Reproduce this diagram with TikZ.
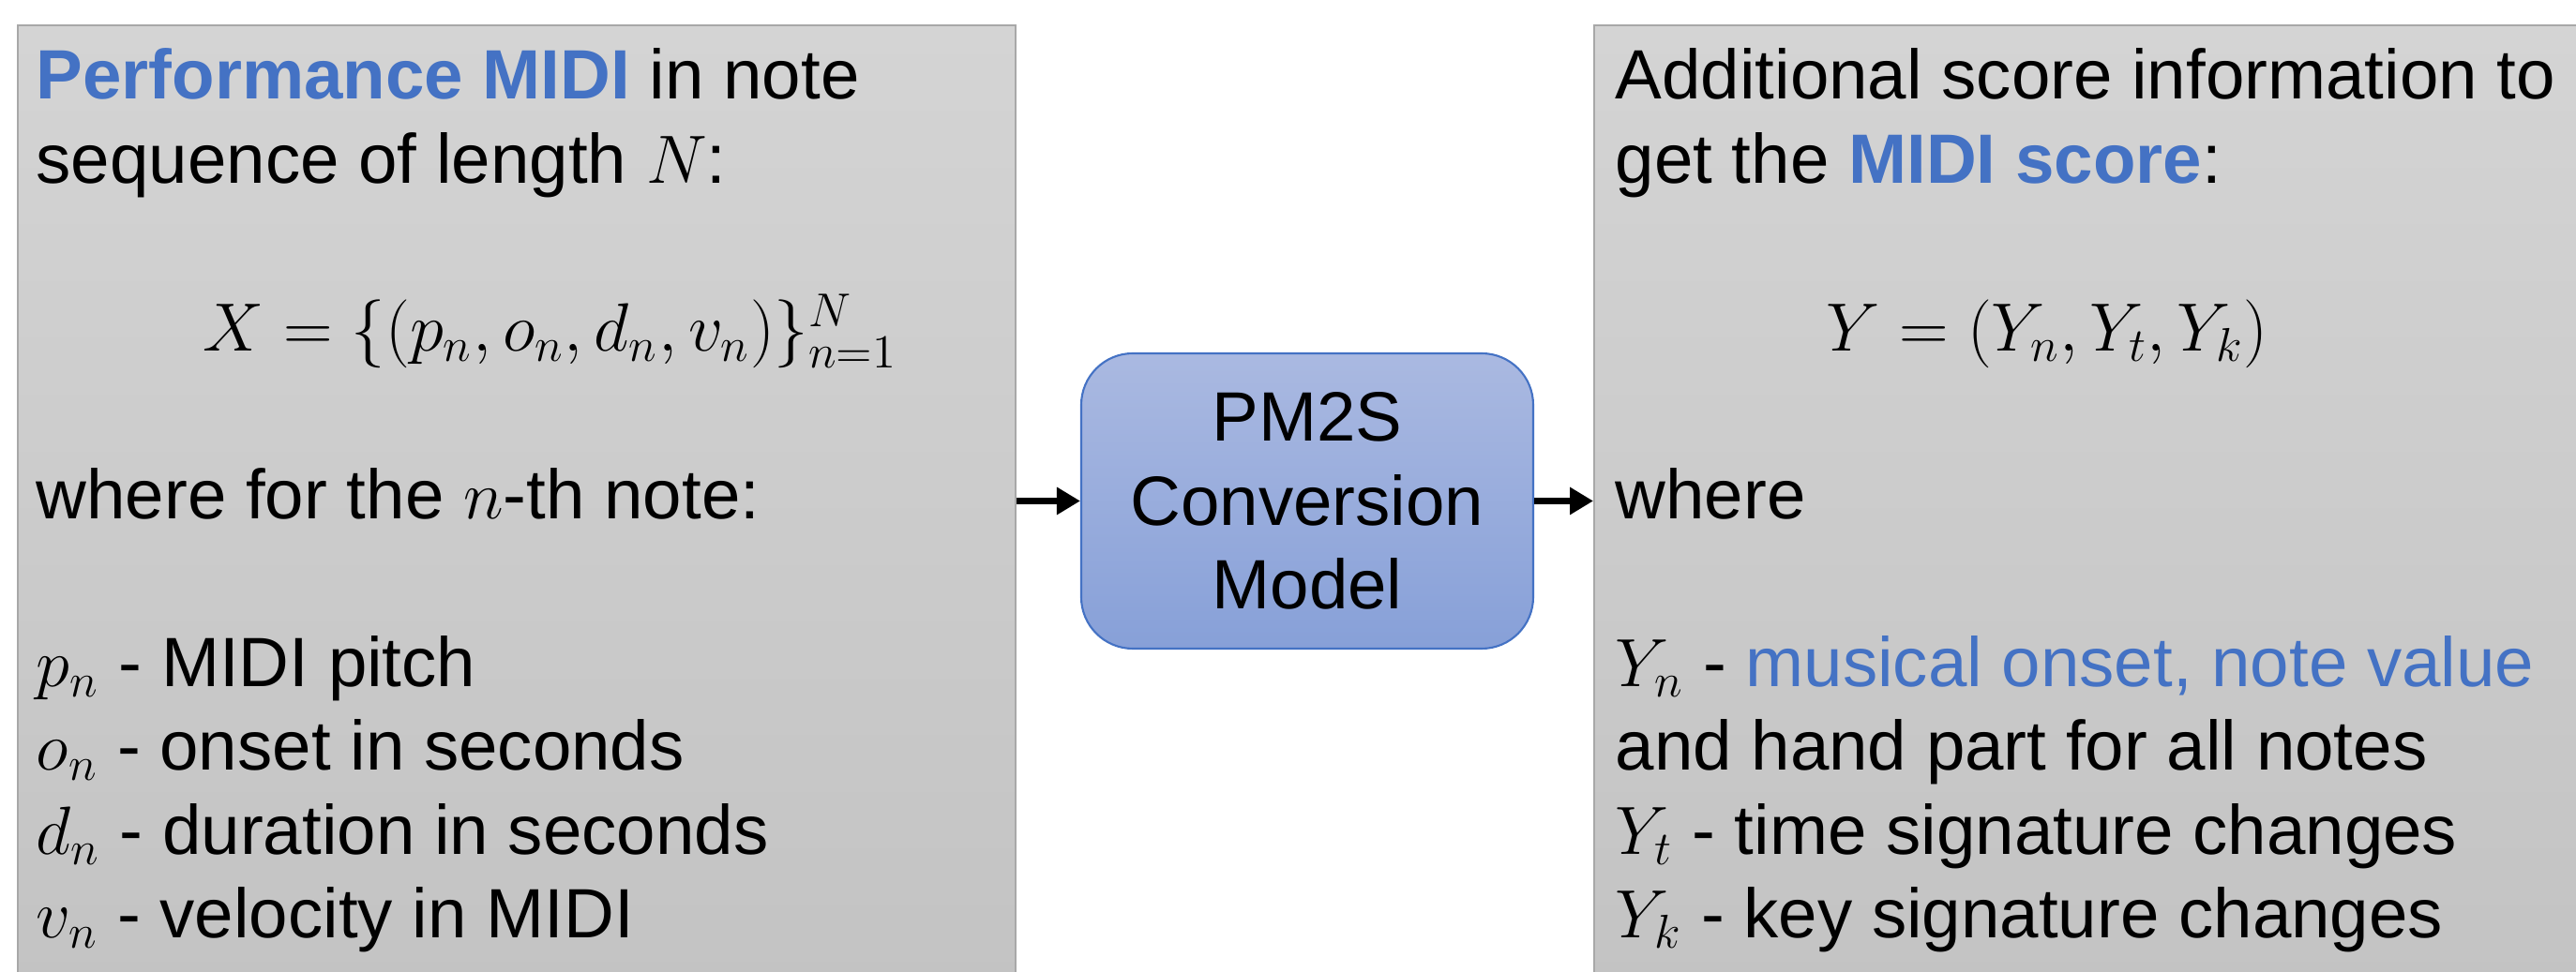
\documentclass[tikz,border=0pt]{standalone}
\usepackage{fontspec}
\setmainfont{Liberation Sans}
\usetikzlibrary{positioning,arrows.meta}
\definecolor{panelfill1}{HTML}{D4D4D4}
\definecolor{panelfill2}{HTML}{C2C2C2}
\definecolor{paneldraw}{HTML}{A8A8A8}
\definecolor{modelfill1}{HTML}{AAB9E1}
\definecolor{modelfill2}{HTML}{87A0D8}
\definecolor{modeldraw}{HTML}{4472C4}
\definecolor{hilite}{HTML}{4472C4}
\newcommand{\bodyfont}{\fontsize{21.2pt}{25.5pt}\selectfont}
\newcommand{\eqfont}{\fontsize{19.6pt}{25.5pt}\selectfont}

\tikzset{
  panel/.style={draw=paneldraw, line width=0.6pt, top color=panelfill1, bottom color=panelfill2,
    minimum width=10.64cm, minimum height=10.9cm, anchor=north west, inner sep=0pt},
  modelbox/.style={draw=modeldraw, line width=0.6pt, rounded corners=0.55cm,
    top color=modelfill1, bottom color=modelfill2, minimum width=4.82cm, minimum height=3.15cm,
    align=center, font=\bodyfont},
  textline/.style={anchor=base west, inner sep=0pt, font=\bodyfont},
  formula/.style={anchor=base, inner sep=0pt, font=\eqfont},
  flow/.style={-{Triangle[length=0.25cm,width=0.28cm]}, line width=1.8pt}
}

\begin{document}
\begin{tikzpicture}[x=1cm,y=1cm]
\useasboundingbox (0,0) rectangle (27.47,10.37);
\clip (0,0) rectangle (27.47,10.37);
% panels
\node[panel] (perf) at (0.175,10.11) {};
\node[panel] (score) at (16.99,10.11) {};
\node[modelbox] (model) at (13.94,5.025) {PM2S\\Conversion\\Model};

% left text
\foreach \k/\txt in {0/{\textcolor{hilite}{\bfseries Performance MIDI} in note},
    1/{sequence of length $N$:}, 5/{where for the $n$-th note:},
    7/{$p_n$ - MIDI pitch}, 8/{$o_n$ - onset in seconds},
    9/{$d_n$ - duration in seconds}, 10/{$v_n$ - velocity in MIDI}}
  \node[textline] (perf-\k) at (0.38,9.31-0.895*\k) {\txt};
\node[formula] (perf-eq) at (5.87,9.31-0.895*3) {$X=\{(p_n,o_n,d_n,v_n)\}_{n=1}^{N}$};

% right text
\foreach \k/\txt in {0/{Additional score information to},
    1/{get the \textcolor{hilite}{\bfseries MIDI score}:}, 5/{where},
    7/{$Y_n$ - \textcolor{hilite}{musical onset, note value}}, 8/{and hand part for all notes},
    9/{$Y_t$ - time signature changes}, 10/{$Y_k$ - key signature changes}}
  \node[textline] (score-\k) at (17.22,9.31-0.895*\k) {\txt};
\node[formula] (score-eq) at (21.83,9.31-0.895*3) {$Y=(Y_n,Y_t,Y_k)$};

% arrows
\draw[flow] (perf.east |- model.west) -- (model.west);
\draw[flow] (model.east) -- (model.east -| score.west);
\end{tikzpicture}
\end{document}
